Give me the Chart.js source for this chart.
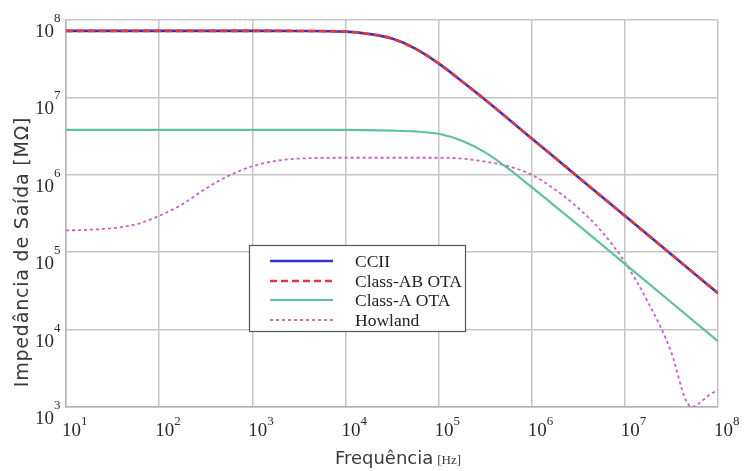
<!DOCTYPE html>
<html>
<head>
<meta charset="utf-8">
<script src="https://cdn.jsdelivr.net/npm/chart.js@4.4.1/dist/chart.umd.min.js"></script>
<style>
  html, body { margin: 0; padding: 0; background: #ffffff; }
  #c { display: block; }
</style>
</head>
<body>
<canvas id="c" width="746" height="471"></canvas>
<script>
// ---- Data ----
const seriesNames = ["CCII", "Class-AB OTA", "Class-A OTA", "Howland"];
const xExponents = [1, 2, 3, 4, 5, 6, 7, 8];
const yExponents = [3, 4, 5, 6, 7, 8];

const cciiFreq = [10, 100, 1000, 3162, 10000, 17783, 31623, 56234, 100000, 177828, 316228, 1000000, 3162278, 10000000, 31622777, 100000000];
const cciiZ    = [7.24e7, 7.24e7, 7.24e7, 7.22e7, 7.08e7, 6.61e7, 5.75e7, 4.27e7, 2.75e7, 1.62e7, 9.33e6, 2.95e6, 9.33e5, 2.95e5, 9.33e4, 2.95e4];

const classAbFreq = [10, 100, 1000, 3162, 10000, 17783, 31623, 56234, 100000, 177828, 316228, 1000000, 3162278, 10000000, 31622777, 100000000];
const classAbZ    = [7.24e7, 7.24e7, 7.24e7, 7.22e7, 7.08e7, 6.61e7, 5.75e7, 4.27e7, 2.75e7, 1.62e7, 9.33e6, 2.95e6, 9.33e5, 2.95e5, 9.33e4, 2.95e4];

const classAFreq = [10, 100, 1000, 10000, 31623, 56234, 100000, 177828, 316228, 562341, 1000000, 3162278, 10000000, 31622777, 100000000];
const classAZ    = [3.80e6, 3.80e6, 3.80e6, 3.80e6, 3.72e6, 3.63e6, 3.39e6, 2.75e6, 1.95e6, 1.20e6, 6.92e5, 2.24e5, 7.08e4, 2.24e4, 7.08e3];

const howlandFreq = [10, 17.8, 31.6, 56.2, 100, 178, 316, 562, 1000, 1778, 3162, 10000, 31623, 100000, 177828, 316228, 562341, 1000000, 1778279, 3162278, 5623413, 10000000, 17782794, 31622777, 44668359, 52480746, 63095734, 79432823, 100000000];
const howlandZ    = [1.91e5, 1.95e5, 2.04e5, 2.29e5, 2.95e5, 4.17e5, 6.61e5, 9.77e5, 1.29e6, 1.51e6, 1.62e6, 1.66e6, 1.66e6, 1.66e6, 1.62e6, 1.48e6, 1.29e6, 1.0e6, 6.46e5, 3.72e5, 1.86e5, 7.41e4, 2.24e4, 5.01e3, 1.26e3, 1.0e3, 1.12e3, 1.41e3, 1.66e3];

const xTitle = "Frequência";
const xUnit = "[Hz]";
const yTitle = "Impedância de Saída [MΩ]";

// ---- helpers ----
function pts(xs, ys) { return xs.map((x, i) => ({ x: x, y: ys[i] })); }

const styles = [
  { color: "#3434c4", width: 2.6, dash: [] },
  { color: "#e8343c", width: 2.6, dash: [7, 4] },
  { color: "#5cc3a2", width: 2.2, dash: [] },
  { color: "#d45ac8", width: 1.8, dash: [3, 3] }
];

const datasets = [
  { label: seriesNames[0], data: pts(cciiFreq, cciiZ), order: 2 },
  { label: seriesNames[1], data: pts(classAbFreq, classAbZ), order: 1 },
  { label: seriesNames[2], data: pts(classAFreq, classAZ), order: 3 },
  { label: seriesNames[3], data: pts(howlandFreq, howlandZ), order: 4 }
].map((d, i) => Object.assign(d, {
  borderColor: styles[i].color,
  backgroundColor: styles[i].color,
  borderWidth: styles[i].width,
  borderDash: styles[i].dash,
  pointRadius: 0,
  fill: false,
  cubicInterpolationMode: "monotone",
  showLine: true
}));

const decorPlugin = {
  id: "decor",
  beforeDraw(chart) {
    const ctx = chart.ctx;
    ctx.save();
    ctx.fillStyle = "#ffffff";
    ctx.fillRect(0, 0, chart.width, chart.height);
    ctx.restore();
  },
  afterDraw(chart) {
    const ctx = chart.ctx;
    const xs = chart.scales.x, ys = chart.scales.y;
    ctx.save();
    ctx.fillStyle = "#2a2a2a";
    ctx.textBaseline = "alphabetic";
    // x tick labels
    xExponents.forEach(e => {
      const px = xs.getPixelForValue(Math.pow(10, e));
      ctx.font = "19px 'Liberation Serif'";
      ctx.textAlign = "left";
      ctx.fillText("10", px - 4, 436);
      const w = ctx.measureText("10").width;
      ctx.font = "13px 'Liberation Serif'";
      ctx.fillText(String(e), px - 4 + w, 425);
    });
    // y tick labels
    yExponents.forEach(e => {
      const py = ys.getPixelForValue(Math.pow(10, e));
      ctx.font = "19px 'Liberation Serif'";
      ctx.textAlign = "right";
      ctx.fillText("10", 54, py + 17);
      ctx.font = "13px 'Liberation Serif'";
      ctx.textAlign = "left";
      ctx.fillText(String(e), 54, py + 2);
    });
    // axis titles
    ctx.fillStyle = "#3a3a3a";
    ctx.font = "18px 'DejaVu Sans'";
    ctx.textAlign = "left";
    const tw = ctx.measureText(xTitle).width;
    ctx.font = "13px 'Liberation Serif'";
    const uw = ctx.measureText(xUnit).width;
    const cx = 398;
    const startX = cx - (tw + 4 + uw) / 2;
    ctx.font = "18px 'DejaVu Sans'";
    ctx.fillText(xTitle, startX, 464);
    ctx.font = "13px 'Liberation Serif'";
    ctx.fillText(xUnit, startX + tw + 4, 464);

    ctx.save();
    ctx.translate(28, 252);
    ctx.rotate(-Math.PI / 2);
    ctx.font = "19px 'DejaVu Sans'";
    ctx.textAlign = "center";
    ctx.letterSpacing = "0.8px";
    ctx.fillText(yTitle, 0, 0);
    ctx.restore();

    // legend box
    const bx = 249, by = 245, bw = 216, bh = 86;
    ctx.fillStyle = "#ffffff";
    ctx.fillRect(bx, by, bw, bh);
    ctx.strokeStyle = "#555555";
    ctx.lineWidth = 1.2;
    ctx.setLineDash([]);
    ctx.strokeRect(bx + 0.5, by + 0.5, bw, bh);
    const rows = [261, 281, 300, 320];
    chart.data.datasets.forEach((d, i) => {
      const y = rows[i];
      ctx.strokeStyle = d.borderColor;
      ctx.lineWidth = d.borderWidth;
      ctx.setLineDash(d.borderDash || []);
      ctx.beginPath();
      ctx.moveTo(270, y);
      ctx.lineTo(333, y);
      ctx.stroke();
      ctx.setLineDash([]);
      ctx.fillStyle = "#222222";
      ctx.font = "17.5px 'Liberation Serif'";
      ctx.textAlign = "left";
      ctx.textBaseline = "middle";
      ctx.fillText(d.label, 355, y + 1);
    });
    ctx.restore();
  }
};

function decadeTicks(exps) {
  return function (scale) {
    scale.ticks = exps.map(e => ({ value: Math.pow(10, e) }));
  };
}

new Chart(document.getElementById("c"), {
  type: "line",
  data: { datasets: datasets },
  options: {
    responsive: false,
    animation: false,
    devicePixelRatio: 1,
    layout: { padding: { left: 66, top: 20, right: 28, bottom: 64 } },
    plugins: { legend: { display: false }, tooltip: { enabled: false } },
    scales: {
      x: {
        type: "logarithmic",
        min: 10, max: 1e8,
        afterBuildTicks: decadeTicks(xExponents),
        ticks: { display: false },
        grid: { color: "#c6c6c6", lineWidth: 1.5, drawTicks: false },
        border: { display: true, color: "#b4b4b4", width: 1.5 }
      },
      y: {
        type: "logarithmic",
        min: 1e3, max: 1e8,
        afterBuildTicks: decadeTicks(yExponents),
        ticks: { display: false },
        grid: { color: "#c6c6c6", lineWidth: 1.5, drawTicks: false },
        border: { display: true, color: "#b4b4b4", width: 1.5 }
      }
    }
  },
  plugins: [decorPlugin]
});
</script>
</body>
</html>
